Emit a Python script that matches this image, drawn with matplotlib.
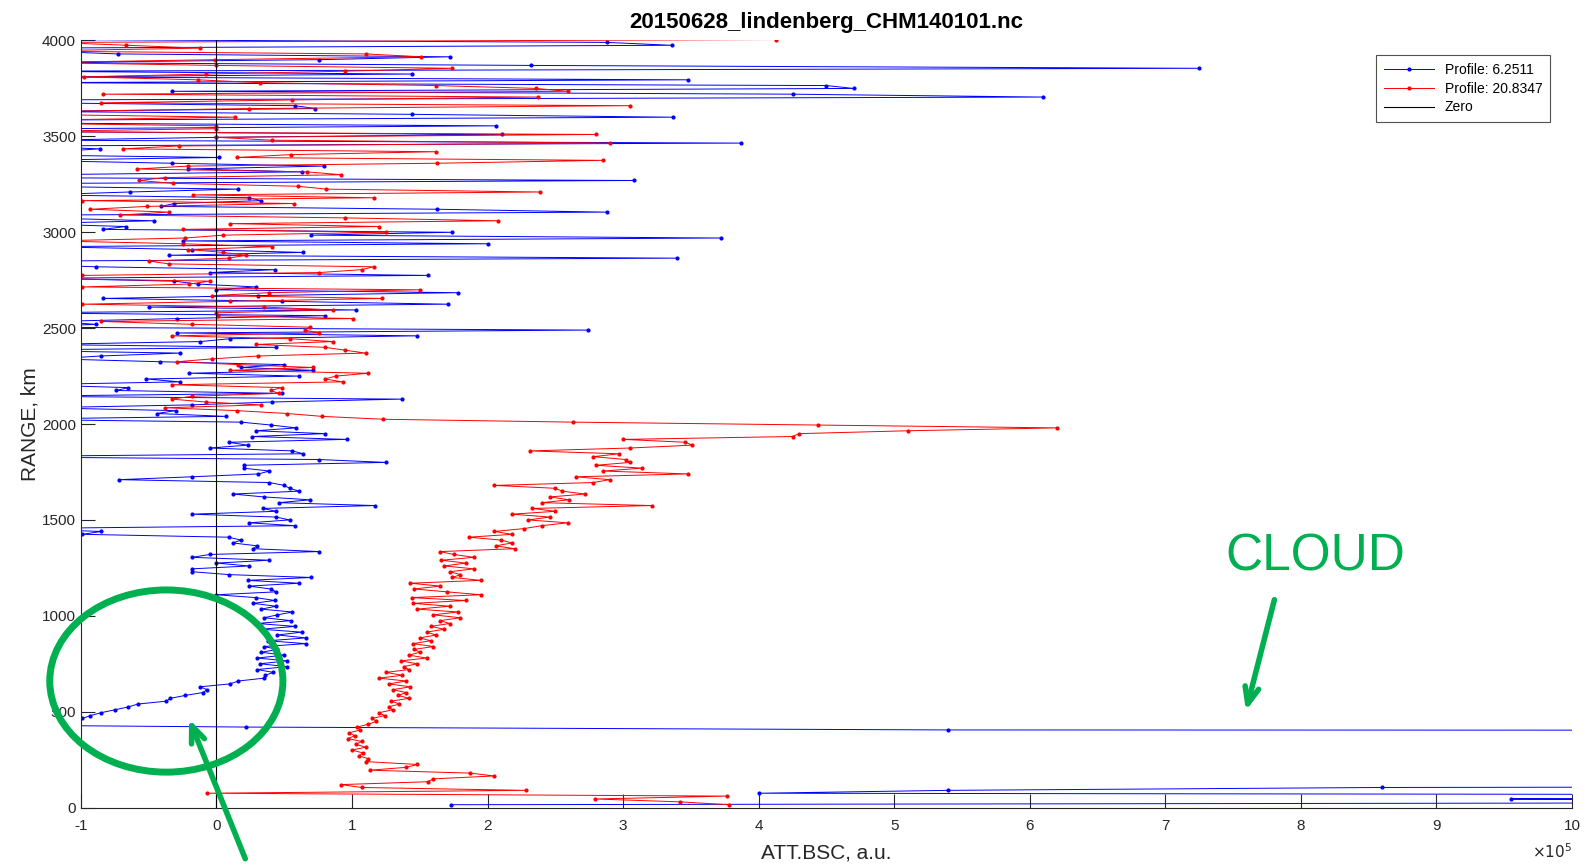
import numpy as np
import matplotlib
matplotlib.use('Agg')
import matplotlib.pyplot as plt
from matplotlib.patches import Ellipse

plt.rcParams['font.family'] = ['Liberation Sans', 'DejaVu Sans']
plt.rcParams['axes.unicode_minus'] = False

# ceilometer range gate (m)
GATE = 15

# attenuated backscatter, units of 1e5 (one value per gate, from the ground up)
blue_bsc = [
    1.73, 16.0, 9.55, 20.0, 4.00, 5.40, 8.60, 25.0, 30.0, 35.0,
    40.0, 45.0, 50.0, 48.0, 55.0, 60.0, 52.0, 58.0, 65.0, 60.0,
    55.0, 62.0, 70.0, 66.0, 72.0, 68.0, 5.40, 0.22, -2.50, -1.20,
    -0.99, -0.93, -0.85, -0.75, -0.65, -0.58, -0.37, -0.34, -0.23, -0.10,
    -0.07, -0.12, 0.10, 0.16, 0.35, 0.36, 0.42, 0.30, 0.52, 0.32,
    0.52, 0.30, 0.50, 0.33, 0.45, 0.35, 0.66, 0.38, 0.66, 0.45,
    0.63, 0.33, 0.58, 0.30, 0.55, 0.35, 0.45, 0.56, 0.33, 0.44,
    0.27, 0.43, 0.29, 0.00, 0.44, 0.40, 0.24, 0.61, 0.23, 0.70,
    0.09, -0.18, -0.18, 0.24, 0.00, 0.39, -0.18, -0.05, 0.76, 0.27,
    0.30, 0.12, 0.18, 0.09, -0.99, -0.85, -1.50, 0.58, 0.24, 0.54,
    0.44, -0.18, 0.44, 0.34, 1.17, 0.46, 0.69, 0.35, 0.12, 0.61,
    0.54, 0.50, 0.39, -0.72, -0.18, 0.31, 0.39, 0.20, 0.20, 1.25,
    0.76, -1.80, 0.64, 0.56, -0.05, 0.23, 0.09, 0.96, 0.26, 0.80,
    0.29, 0.59, 0.40, 0.18, -1.60, 0.07, -0.44, -0.30, -1.30, -0.18,
    0.41, 1.37, -1.50, 0.48, -0.74, -0.65, -1.40, -0.27, -0.52, 0.61,
    -0.20, 0.71, 0.18, 0.50, -0.42, -1.20, -0.85, -0.27, -1.60, 0.44,
    -1.30, -0.12, 0.10, 1.48, -0.29, 2.74, -1.40, -0.89, -1.20, -0.29,
    0.80, -1.50, 1.03, -0.50, 1.71, 0.48, -0.84, 0.31, 1.78, 0.00,
    0.29, -0.14, -0.31, -1.30, 1.56, -0.05, 0.43, -0.89, -1.50, -1.40,
    3.40, -0.35, 0.64, -0.18, -1.30, 2.00, -0.25, 3.72, 0.70, 1.74,
    -0.84, -0.67, -1.40, -0.46, -1.30, -1.20, 2.88, 1.63, -0.41, -0.31,
    0.33, 0.24, -1.30, -0.64, 0.16, -1.40, -1.20, 3.08, -1.50, -1.30,
    0.63, -0.21, 0.79, -0.33, -1.40, 0.02, -1.60, -1.20, -0.86, -1.50,
    3.87, -1.30, 0.00, 2.11, -1.40, -1.20, 2.06, -1.50, -1.30, 3.37,
    1.44, -1.40, 0.73, 0.58, -1.30, -1.50, 6.10, 4.25, -0.33, 4.70,
    4.50, -1.40, 3.48, -1.30, 1.44, -1.50, 7.25, 2.32, -1.40, 0.76,
    1.72, -0.73, -1.30, -1.50, 3.36, 2.88, -1.20,
]

red_bsc = [
    3.78, 3.42, 2.79, 3.77, -0.07, 2.28, 1.07, 0.92, 1.56, 1.60,
    2.05, 1.87, 1.13, 1.40, 1.48, 1.10, 1.12, 1.05, 1.08, 1.00,
    1.10, 1.03, 1.07, 0.97, 1.02, 0.98, 1.06, 1.04, 1.12, 1.18,
    1.15, 1.24, 1.20, 1.30, 1.27, 1.35, 1.29, 1.42, 1.34, 1.40,
    1.30, 1.43, 1.27, 1.40, 1.20, 1.37, 1.25, 1.42, 1.38, 1.48,
    1.36, 1.55, 1.42, 1.50, 1.46, 1.60, 1.45, 1.58, 1.50, 1.62,
    1.55, 1.68, 1.58, 1.72, 1.65, 1.80, 1.60, 1.78, 1.48, 1.72,
    1.45, 1.84, 1.44, 1.95, 1.70, 1.46, 1.65, 1.43, 1.95, 1.74,
    1.80, 1.72, 1.90, 1.68, 1.84, 1.66, 1.90, 1.75, 1.65, 2.20,
    2.06, 2.18, 2.10, 1.86, 2.18, 2.05, 2.27, 2.40, 2.59, 2.30,
    2.46, 2.18, 2.50, 2.33, 3.21, 2.40, 2.60, 2.46, 2.72, 2.55,
    2.50, 2.05, 2.78, 2.90, 2.65, 3.48, 2.85, 3.14, 2.80, 3.05,
    3.02, 2.78, 2.97, 2.31, 3.05, 3.51, 3.46, 3.00, 4.25, 4.30,
    5.10, 6.20, 4.44, 2.63, 1.23, 0.78, 0.52, 0.15, -0.38, 0.33,
    -0.08, -0.33, -0.18, 0.46, 0.40, 0.48, -0.33, 0.93, 0.80, 0.88,
    1.12, 0.10, 0.71, 0.16, -0.29, -0.03, 0.31, 1.10, 0.95, 0.80,
    0.29, 0.86, 0.54, -0.33, 0.76, 0.65, 0.69, -0.18, -0.85, 1.01,
    0.01, 0.00, 0.86, 0.35, -0.99, 0.10, 1.22, -0.03, 0.39, 1.50,
    -0.99, -0.20, -0.05, -1.30, -0.99, 0.76, 1.07, 1.16, -0.35, -0.50,
    0.09, 0.22, 0.05, -0.21, 0.41, -0.25, -1.20, -0.23, 0.05, 1.25,
    -0.25, 1.20, 0.10, 2.08, 0.95, -0.71, -0.35, -0.93, -0.51, 0.57,
    -0.99, 1.16, -0.17, 2.39, 0.81, 0.60, -0.32, -0.57, -0.38, 0.92,
    0.67, -0.59, -0.21, 1.63, 2.85, 0.15, 0.55, 1.62, -0.69, -0.28,
    2.90, 0.41, 0.00, 2.80, -1.50, 0.00, 0.00, -1.60, -1.30, 0.14,
    -1.40, -1.20, 0.24, 3.05, -0.85, 0.56, 2.37, -0.84, 2.59, 2.36,
    1.62, 0.32, -0.14, -0.98, -0.08, 0.95, 1.74, 0.00, -1.30, -0.01,
    1.51, 1.10, -1.40, -0.12, -0.67, -1.20, 4.13,
]

labels = ['Profile: 6.2511', 'Profile: 20.8347', 'Zero']
title = '20150628_lindenberg_CHM140101.nc'

blue_rng = GATE * np.arange(1, len(blue_bsc) + 1)
red_rng = GATE * np.arange(1, len(red_bsc) + 1)

fig = plt.figure(figsize=(15.87, 8.67), dpi=100)
ax = fig.add_axes([0.051, 0.0685, 0.9395, 0.8848])

ax.plot(blue_bsc, blue_rng, '.-', color='#0000ff', lw=0.7, ms=4, label=labels[0])
ax.plot(red_bsc, red_rng, '.-', color='#ff0000', lw=0.7, ms=4, label=labels[1])
ax.plot([0, 0], [0, 4000], color='black', lw=0.8, label=labels[2])

ax.set_xlim(-1, 10)
ax.set_ylim(0, 4000)
ax.set_xticks(range(-1, 11))
ax.set_yticks(range(0, 4001, 500))

for side in ['top', 'right']:
    ax.spines[side].set_visible(False)
for side in ['left', 'bottom']:
    ax.spines[side].set_color('#262626')
    ax.spines[side].set_linewidth(0.8)
ax.tick_params(direction='in', length=10, width=0.8, colors='#262626',
               labelsize=11)
ax.tick_params(axis='x', pad=8)

ax.set_title(title, fontsize=16, fontweight='bold', pad=9)
ax.set_xlabel('ATT.BSC, a.u.', fontsize=15, color='#262626', labelpad=8)
ax.set_ylabel('RANGE, km', fontsize=15, color='#262626', labelpad=2)
ax.text(1.0, -0.058, r'$\times 10^5$', transform=ax.transAxes,
        ha='right', va='center', fontsize=11, color='#262626')

leg = ax.legend(loc='upper right', bbox_to_anchor=(0.99, 0.99), fontsize=10,
                frameon=True, fancybox=False, handlelength=3.6,
                borderpad=0.55, labelspacing=0.35)
leg.get_frame().set_edgecolor('#262626')
leg.get_frame().set_linewidth(0.8)

# annotations
green = '#00b050'
ax.add_patch(Ellipse((-0.37, 660), 1.72, 950, fill=False, edgecolor=green,
                     lw=5, clip_on=False, zorder=5))
ax.annotate('', xy=(-0.21, 475), xytext=(0.22, -280),
            arrowprops=dict(arrowstyle='->,head_length=1.2,head_width=0.5',
                            color=green, lw=4),
            annotation_clip=False)
ax.text(8.11, 1309, 'CLOUD', color=green, fontsize=37, ha='center',
        va='center')
ax.annotate('', xy=(7.59, 491), xytext=(7.81, 1098),
            arrowprops=dict(arrowstyle='->,head_length=1.2,head_width=0.5',
                            color=green, lw=4))

fig.savefig('out.png', dpi=100)
